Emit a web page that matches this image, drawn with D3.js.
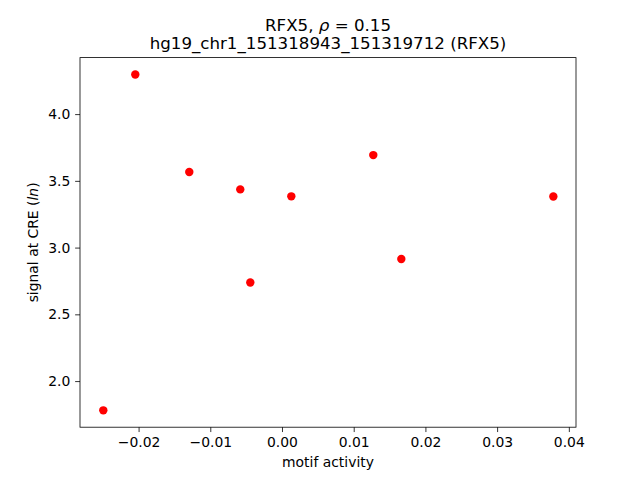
<!DOCTYPE html>
<html>
<head>
<meta charset="utf-8">
<script src="https://cdn.jsdelivr.net/npm/d3@7"></script>
<style>
  html, body { margin: 0; padding: 0; background: #fff; }
  svg { display: block; }
  text { font-family: "DejaVu Sans", sans-serif; fill: #000; }
</style>
</head>
<body>
<div id="chart"></div>
<script>
// Data
const motifActivity = [-0.02492, -0.02046, -0.01293, -0.00582, -0.00442, 0.00130, 0.01273, 0.01664, 0.03784];
const signalAtCRE   = [1.781, 4.297, 3.566, 3.436, 2.739, 3.384, 3.693, 2.914, 3.383];
const xTicks = [-0.02, -0.01, 0.00, 0.01, 0.02, 0.03, 0.04];
const yTicks = [2.0, 2.5, 3.0, 3.5, 4.0];
const titleLine1 = "RFX5, ";
const titleLine2 = "hg19_chr1_151318943_151319712 (RFX5)";

const W = 640, H = 480;
const m = { left: 80, right: 576, top: 57.6, bottom: 427.2 };

const svg = d3.select("#chart").append("svg")
  .attr("width", W).attr("height", H);

const x = d3.scaleLinear().domain([-0.02817, 0.04100]).range([m.left, m.right]);
const y = d3.scaleLinear().domain([1.6546, 4.4232]).range([m.bottom, m.top]);

// Points
svg.append("g").selectAll("circle")
  .data(motifActivity.map((v, i) => [v, signalAtCRE[i]]))
  .join("circle")
  .attr("cx", d => x(d[0]))
  .attr("cy", d => y(d[1]))
  .attr("r", 4.2)
  .attr("fill", "#ff0000");

// Axes
const xAxis = d3.axisBottom(x).tickValues(xTicks).tickFormat(d3.format(".2f"))
  .tickSize(4.86).tickPadding(4.86);
const yAxis = d3.axisLeft(y).tickValues(yTicks).tickFormat(d3.format(".1f"))
  .tickSize(4.86).tickPadding(4.86);

const gx = svg.append("g").attr("transform", `translate(0,${m.bottom})`).call(xAxis);
const gy = svg.append("g").attr("transform", `translate(${m.left},0)`).call(yAxis);
[gx, gy].forEach(g => {
  g.select(".domain").remove();
  g.selectAll(".tick line").attr("stroke", "#000").attr("stroke-width", 0.8);
  g.selectAll(".tick text").style("font-family", "DejaVu Sans").style("font-size", "13.9px").attr("fill", "#000");
});

// Frame
svg.append("rect")
  .attr("x", m.left).attr("y", m.top)
  .attr("width", m.right - m.left).attr("height", m.bottom - m.top)
  .attr("fill", "none").attr("stroke", "#000").attr("stroke-width", 0.8);

// Title
const cx = (m.left + m.right) / 2;
const t1 = svg.append("text").attr("x", cx).attr("y", 30.5)
  .attr("text-anchor", "middle").style("font-size", "16.67px");
t1.append("tspan").text(titleLine1);
t1.append("tspan").style("font-style", "italic").text("ρ");
t1.append("tspan").text(" = 0.15");
svg.append("text").attr("x", cx).attr("y", 48.5)
  .attr("text-anchor", "middle").style("font-size", "16.67px").text(titleLine2);

// Axis labels
svg.append("text").attr("x", cx).attr("y", 467)
  .attr("text-anchor", "middle").style("font-size", "13.9px").text("motif activity");

const yl = svg.append("text")
  .attr("transform", `translate(37.5,${(m.top + m.bottom) / 2}) rotate(-90)`)
  .attr("text-anchor", "middle").style("font-size", "13.9px");
yl.append("tspan").text("signal at CRE (");
yl.append("tspan").style("font-style", "italic").text("ln");
yl.append("tspan").text(")");
</script>
</body>
</html>
